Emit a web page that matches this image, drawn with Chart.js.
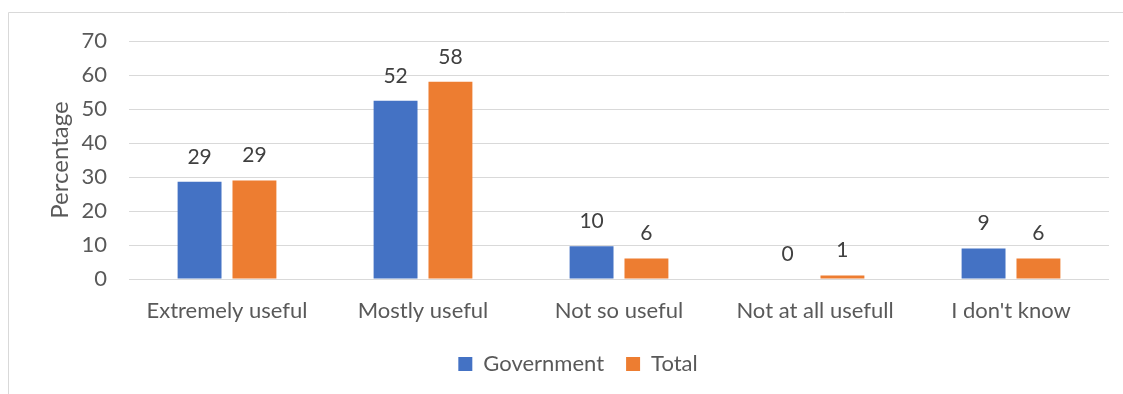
<!DOCTYPE html>
<html>
<head>
<meta charset="utf-8">
<script src="https://cdn.jsdelivr.net/npm/chart.js@4/dist/chart.umd.min.js"></script>
<style>
html,body{margin:0;padding:0;background:#fff;}
#wrap{position:relative;width:1123px;height:394px;}
canvas{display:block;}
</style>
</head>
<body>
<div id="wrap"><canvas id="c" width="1123" height="394"></canvas></div>
<script>
const categories = ["Extremely useful", "Mostly useful", "Not so useful", "Not at all usefull", "I don't know"];
const government = [28.6, 52.4, 9.6, 0, 9.0];
const total = [29.0, 58.0, 6.0, 1.0, 6.0];
const yTicks = [0, 10, 20, 30, 40, 50, 60, 70];
const yTitle = "Percentage";

const FONT = "Lato, 'Open Sans', sans-serif";
const TEXT = "#595959";
const FS = 22;

const frame = {
  id: 'frame',
  beforeDraw(chart) {
    const ctx = chart.ctx;
    ctx.save();
    ctx.strokeStyle = '#d9d9d9';
    ctx.lineWidth = 1;
    ctx.beginPath();
    ctx.moveTo(8.5, 394);
    ctx.lineTo(8.5, 12.5);
    ctx.lineTo(1123, 12.5);
    ctx.stroke();
    ctx.restore();
  },
  afterDraw(chart) {
    const ctx = chart.ctx;
    const a = chart.chartArea;
    ctx.save();
    ctx.font = "24px " + FONT;
    ctx.fillStyle = TEXT;
    ctx.textAlign = 'center';
    ctx.textBaseline = 'middle';
    ctx.translate(a.left - 69, (a.top + a.bottom) / 2);
    ctx.rotate(-Math.PI / 2);
    ctx.fillText(yTitle, 0, 0);
    ctx.restore();
  }
};

const valueLabels = {
  id: 'valueLabels',
  afterDatasetsDraw(chart) {
    const ctx = chart.ctx;
    ctx.save();
    ctx.font = "21px " + FONT;
    ctx.fillStyle = "#404040";
    ctx.textAlign = 'center';
    ctx.textBaseline = 'middle';
    chart.data.datasets.forEach((ds, di) => {
      const meta = chart.getDatasetMeta(di);
      meta.data.forEach((el, i) => {
        ctx.fillText(String(Math.round(ds.data[i])), el.x, el.y - 25);
      });
    });
    ctx.restore();
  }
};

new Chart(document.getElementById('c'), {
  type: 'bar',
  data: {
    labels: categories,
    datasets: [
      { label: 'Government', data: government, backgroundColor: '#4472C4', categoryPercentage: 0.56, barPercentage: 0.8 },
      { label: 'Total', data: total, backgroundColor: '#ED7D31', categoryPercentage: 0.56, barPercentage: 0.8 }
    ]
  },
  options: {
    responsive: false,
    animation: false,
    layout: { padding: { left: 47, right: 14, top: 41, bottom: 9 } },
    plugins: {
      legend: {
        position: 'bottom',
        labels: {
          color: TEXT,
          font: { family: FONT, size: FS },
          boxWidth: 14, boxHeight: 14,
          padding: 22
        }
      },
      tooltip: { enabled: false }
    },
    scales: {
      x: {
        grid: { display: false, drawTicks: false },
        border: { display: false },
        ticks: { color: TEXT, font: { family: FONT, size: FS }, padding: 19 },
        afterFit(s) { s.height = 52; }
      },
      y: {
        min: 0, max: 70,
        afterBuildTicks(s) { s.ticks = yTicks.map(v => ({ value: v })); },
        grid: { color: '#d9d9d9', lineWidth: 1, drawTicks: false },
        border: { display: false },
        ticks: { color: TEXT, font: { family: FONT, size: FS }, padding: 22 },
        afterFit(s) { s.width = 82; }
      }
    }
  },
  plugins: [frame, valueLabels]
});
</script>
</body>
</html>
